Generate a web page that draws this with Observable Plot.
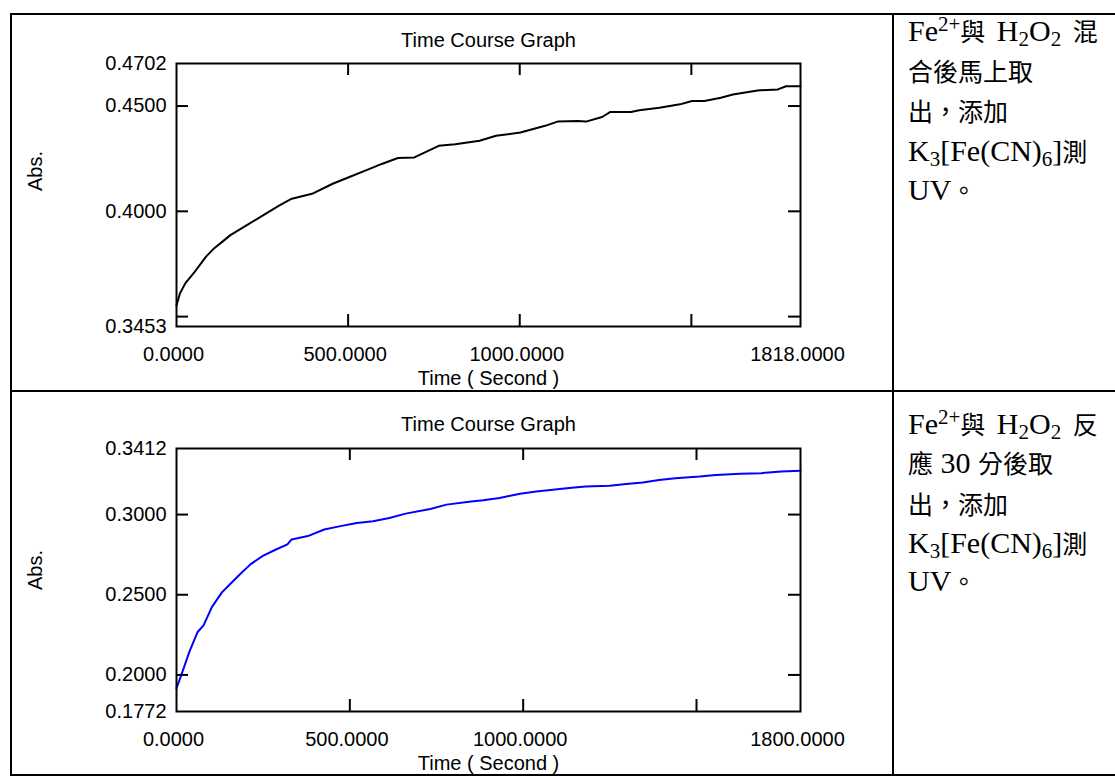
<!DOCTYPE html>
<html><head><meta charset="utf-8">
<script src="https://cdn.jsdelivr.net/npm/d3@7"></script>
<script src="https://cdn.jsdelivr.net/npm/@observablehq/plot@0.6"></script>
<style>
html,body{margin:0;padding:0;background:#fff;}
#page{position:relative;width:1115px;height:776px;overflow:hidden;background:#fff;}
.chart{position:absolute;left:0;}
.hl{position:absolute;background:#000;height:2px;}
.vl{position:absolute;background:#000;width:2px;}
.ln{position:absolute;left:908px;height:40px;font-family:"Liberation Serif","Times New Roman",serif;font-size:30px;line-height:40px;white-space:nowrap;color:#000;}
.ln .c{font-family:"Noto Sans CJK TC",sans-serif;font-size:25px;line-height:40px;}
.ln .sup{font-size:0.7em;position:relative;top:-0.5em;line-height:0;}
.ln .sub{font-size:0.7em;position:relative;top:0.22em;line-height:0;}
.ln.w{word-spacing:4px;}
</style></head>
<body>
<div id="page">
  <div id="c1" class="chart" style="top:0px"></div>
  <div id="c2" class="chart" style="top:385px"></div>

  <div class="ln w" style="top:10px">Fe<span class="sup">2+</span><span class="c">與</span> H<span class="sub">2</span>O<span class="sub">2</span> <span class="c">混</span></div>
  <div class="ln" style="top:50px"><span class="c">合後馬上取</span></div>
  <div class="ln" style="top:90px"><span class="c">出，添加</span></div>
  <div class="ln" style="top:130px">K<span class="sub">3</span>[Fe(CN)<span class="sub">6</span>]<span class="c">測</span></div>
  <div class="ln" style="top:169px">UV<span class="c">。</span></div>

  <div class="ln w" style="top:403px">Fe<span class="sup">2+</span><span class="c">與</span> H<span class="sub">2</span>O<span class="sub">2</span> <span class="c">反</span></div>
  <div class="ln" style="top:442px"><span class="c">應</span> 30 <span class="c">分後取</span></div>
  <div class="ln" style="top:483px"><span class="c">出，添加</span></div>
  <div class="ln" style="top:522px">K<span class="sub">3</span>[Fe(CN)<span class="sub">6</span>]<span class="c">測</span></div>
  <div class="ln" style="top:560px">UV<span class="c">。</span></div>

  <div class="hl" style="left:10px;top:13px;width:1105px"></div>
  <div class="hl" style="left:10px;top:390px;width:1105px"></div>
  <div class="hl" style="left:10px;top:774px;width:1105px"></div>
  <div class="vl" style="left:10px;top:13px;height:763px"></div>
  <div class="vl" style="left:892px;top:13px;height:763px"></div>
</div>
<script>
// ---- Chart 1: mixed then immediately measured (black) ----
const topTime = [0, 10, 26, 50, 86, 110, 133, 157, 205, 252, 300, 336, 395, 455, 502, 550, 598, 645, 693, 764, 812, 883, 931, 1002, 1074, 1110, 1169, 1193, 1240, 1264, 1324, 1348, 1407, 1467, 1502, 1538, 1586, 1621, 1693, 1752, 1776, 1818];
const topAbs = [0.3553, 0.3610, 0.3659, 0.3706, 0.3785, 0.3825, 0.3855, 0.3887, 0.3934, 0.3981, 0.4028, 0.4060, 0.4083, 0.4131, 0.4162, 0.4193, 0.4225, 0.4253, 0.4256, 0.4311, 0.4319, 0.4335, 0.4359, 0.4374, 0.4406, 0.4426, 0.4429, 0.4426, 0.4448, 0.4472, 0.4472, 0.4480, 0.4492, 0.4508, 0.4524, 0.4524, 0.4539, 0.4555, 0.4574, 0.4579, 0.4594, 0.4594];
const topXDomain = [0, 1818];
const topYDomain = [0.3453, 0.4702];
const topXLabels = [0, 500, 1000, 1818];
const topXTicks = [500, 1000, 1500];
const topYLabels = [0.4702, 0.45, 0.40, 0.3453];
const topYTicks = [0.45, 0.40, 0.35];

// ---- Chart 2: reacted 30 min then measured (blue) ----
const botTime = [0, 14, 37, 61, 78, 102, 131, 155, 184, 214, 249, 284, 320, 332, 379, 426, 473, 520, 567, 614, 661, 732, 779, 850, 885, 932, 991, 1038, 1085, 1133, 1180, 1250, 1297, 1345, 1392, 1439, 1509, 1556, 1627, 1686, 1745, 1800];
const botAbs = [0.1918, 0.2000, 0.2144, 0.2268, 0.2309, 0.2423, 0.2515, 0.2567, 0.2629, 0.2691, 0.2742, 0.2779, 0.2814, 0.2845, 0.2866, 0.2907, 0.2928, 0.2948, 0.2959, 0.2979, 0.3006, 0.3035, 0.3062, 0.3082, 0.3089, 0.3103, 0.3130, 0.3144, 0.3155, 0.3165, 0.3175, 0.3179, 0.3190, 0.3200, 0.3216, 0.3227, 0.3237, 0.3247, 0.3254, 0.3258, 0.3268, 0.3274];
const botXDomain = [0, 1800];
const botYDomain = [0.1772, 0.3412];
const botXLabels = [0, 500, 1000, 1800];
const botXTicks = [500, 1000, 1500];
const botYLabels = [0.3412, 0.30, 0.25, 0.20, 0.1772];
const botYTicks = [0.30, 0.25, 0.20];

const titleText = "Time Course Graph";
const xTitle = "Time ( Second )";
const yTitle = "Abs.";

function chart(o) {
  const W = 893, H = 392;
  const L = 176, R = 800, T = 63, B = 326;
  const pw = R - L, ph = B - T, tick = 12;
  const data = o.time.map((t, i) => ({t, a: o.abs[i]}));
  const fmt = d3.format(".4f");
  return Plot.plot({
    width: W, height: H,
    marginLeft: L, marginRight: W - R, marginTop: T, marginBottom: H - B,
    style: {background: "transparent", fontFamily: "'Liberation Sans', Arial, sans-serif", fontSize: "20px", color: "#000", overflow: "visible"},
    x: {domain: o.xDomain, label: null},
    y: {domain: o.yDomain, label: null},
    marks: [
      Plot.line(data, {x: "t", y: "a", stroke: o.color, strokeWidth: 2}),
      Plot.tickX(o.xTicks, {x: d => d, insetTop: ph - tick, stroke: "#000", strokeWidth: 2}),
      Plot.tickX(o.xTicks, {x: d => d, insetBottom: ph - tick, stroke: "#000", strokeWidth: 2}),
      Plot.tickY(o.yTicks, {y: d => d, insetRight: pw - tick, stroke: "#000", strokeWidth: 2}),
      Plot.tickY(o.yTicks, {y: d => d, insetLeft: pw - tick, stroke: "#000", strokeWidth: 2}),
      Plot.frame({stroke: "#000", strokeWidth: 2}),
      Plot.axisY(o.yLabels, {tickSize: 0, tickPadding: 10, tickFormat: fmt, fontSize: 20, label: null}),
      Plot.axisX(o.xLabels, {tickSize: 0, tickPadding: 20, tickFormat: fmt, fontSize: 20, dx: -3, label: null}),
      Plot.text([titleText], {frameAnchor: "top", dy: o.titleDy, lineAnchor: "bottom", fontSize: 20}),
      Plot.text([xTitle], {frameAnchor: "bottom", dy: 58, lineAnchor: "bottom", fontSize: 20}),
      Plot.text([yTitle], {frameAnchor: "left", dx: -141, dy: o.absDy, rotate: -90, fontSize: 20})
    ]
  });
}

document.getElementById("c1").append(chart({
  time: topTime, abs: topAbs, color: "#000000",
  xDomain: topXDomain, yDomain: topYDomain,
  xLabels: topXLabels, xTicks: topXTicks, yLabels: topYLabels, yTicks: topYTicks,
  titleDy: -17, absDy: -4
}));
document.getElementById("c2").append(chart({
  time: botTime, abs: botAbs, color: "#0000ff",
  xDomain: botXDomain, yDomain: botYDomain,
  xLabels: botXLabels, xTicks: botXTicks, yLabels: botYLabels, yTicks: botYTicks,
  titleDy: -18, absDy: 10
}));
</script>
</body></html>
